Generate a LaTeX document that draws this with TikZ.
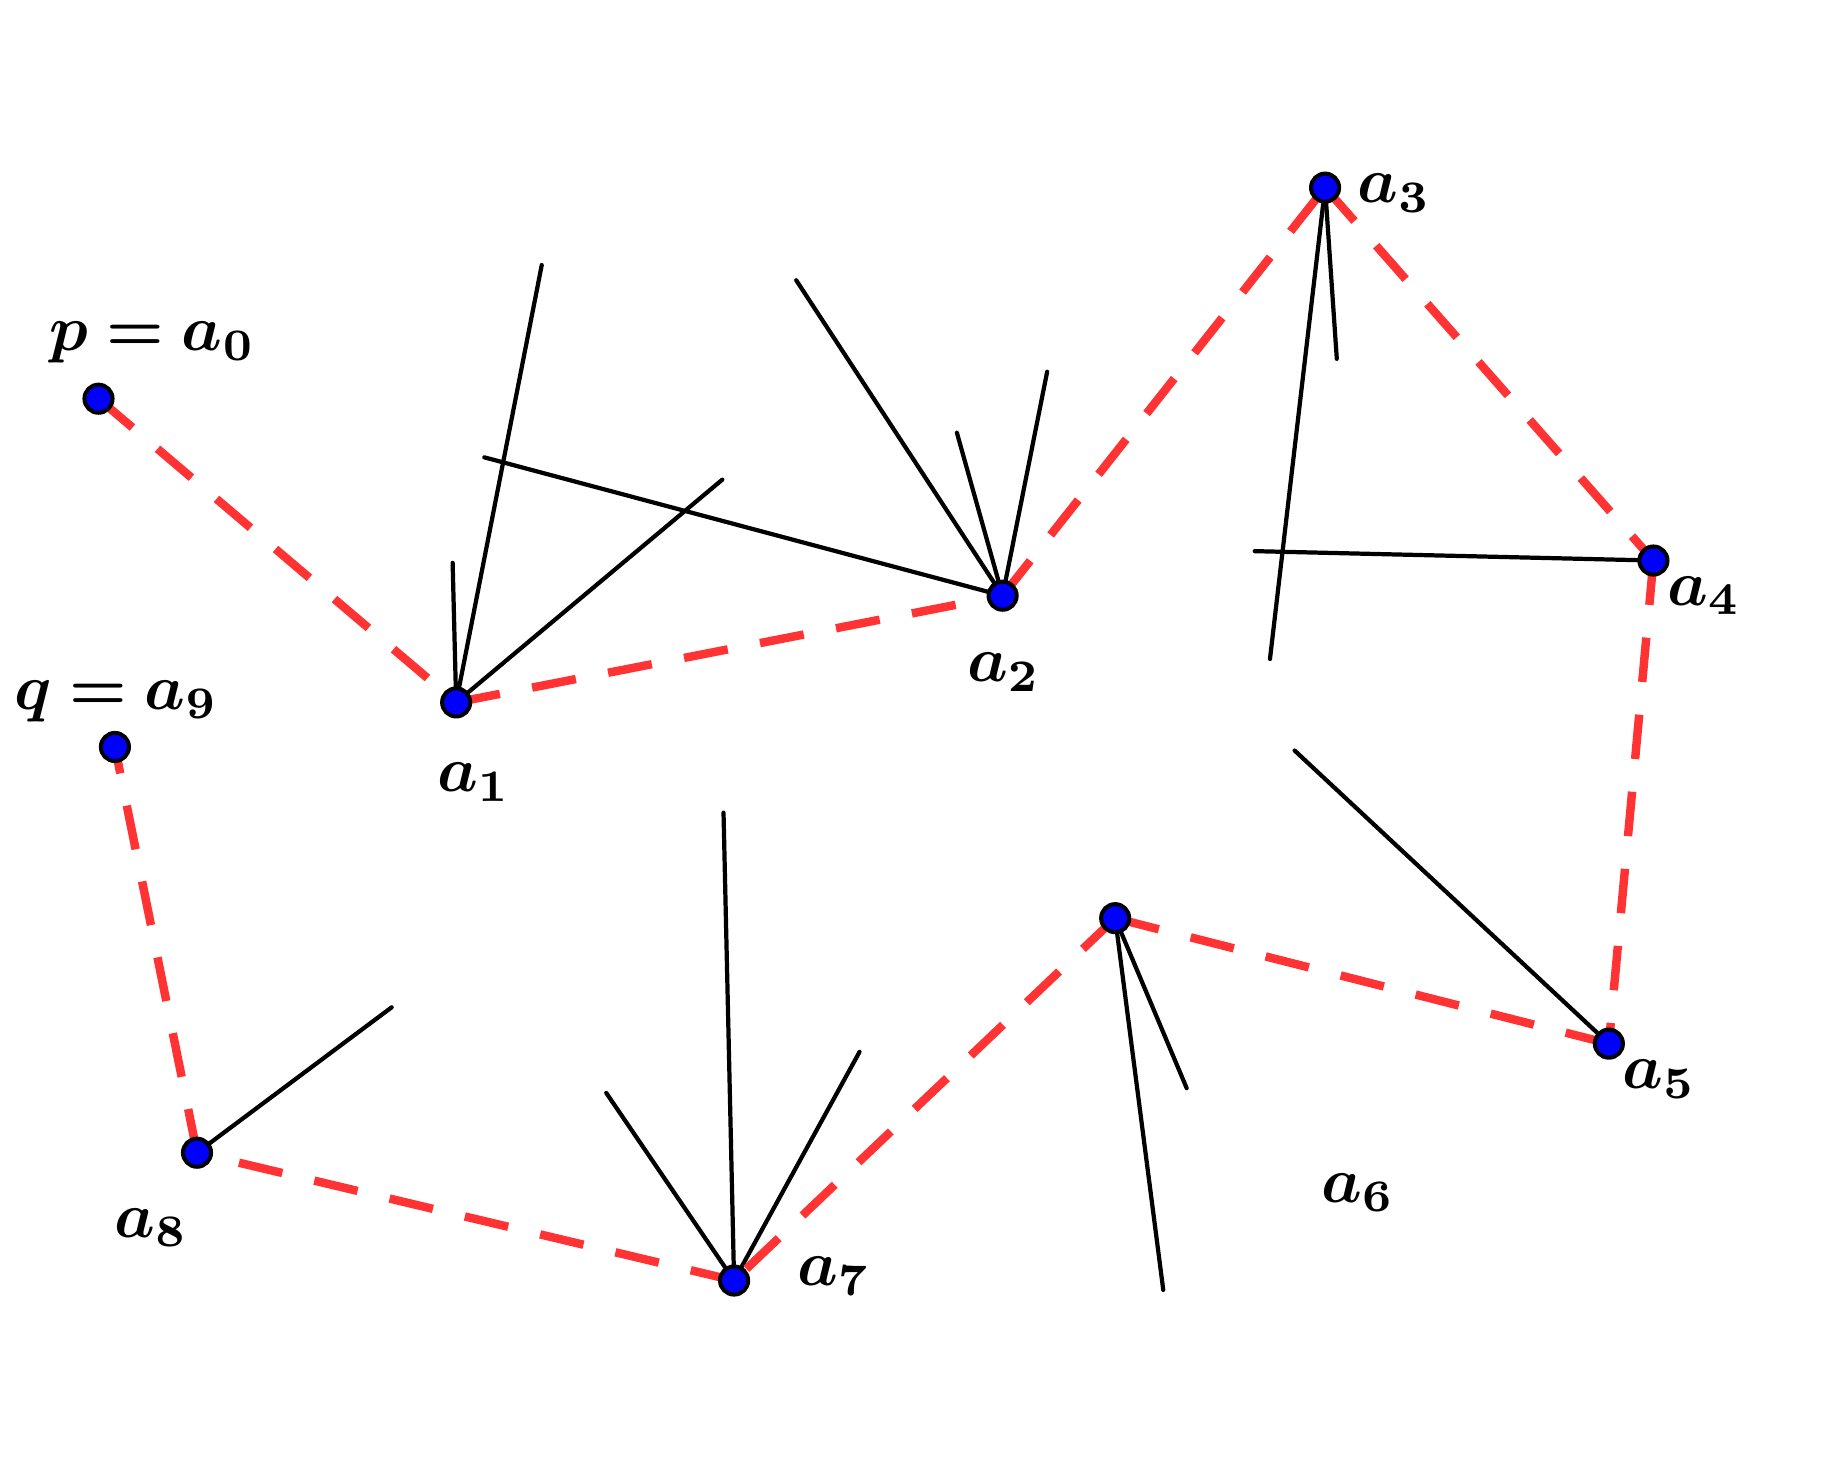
\documentclass[tikz,border=0pt]{standalone}
\usepackage{amsmath,bm}
\tikzset{
  seg/.style={black, line width=1.8pt, line cap=round},
  path/.style={draw={rgb,255:red,255;green,51;blue,51}, line width=3.6pt, dash pattern=on 19pt off 14pt},
  pt/.style={circle, draw=black, fill=blue, line width=1.7pt, minimum size=12pt, inner sep=0pt},
  lab/.style={inner sep=0pt}
}
\newcommand{\lbl}[1]{\scalebox{2.75}{$\bm{#1}$}}
\begin{document}
\begin{tikzpicture}[x=0.5pt, y=-0.5pt]
\useasboundingbox (0,0) rectangle (1564,1259);
% vertex positions
\coordinate (A0) at (84,340);
\coordinate (A1) at (389,599);
\coordinate (A2) at (855,508);
\coordinate (A3) at (1130,160);
\coordinate (A4) at (1410,478);
\coordinate (A5) at (1372,890);
\coordinate (A6) at (951,783);
\coordinate (A7) at (626,1092);
\coordinate (A8) at (168,983);
\coordinate (A9) at (98,637);
% free ends of segments
\coordinate (e1) at (462,226);
\coordinate (e2) at (386,480);
\coordinate (e3) at (616,409);
\coordinate (e4) at (413,390);
\coordinate (e5) at (679,239);
\coordinate (e6) at (816,369);
\coordinate (e7) at (893,317);
\coordinate (e8) at (1083,562);
\coordinate (e9) at (1140,306);
\coordinate (e10) at (1070,470);
\coordinate (e11) at (1104,640);
\coordinate (e12) at (1012,928);
\coordinate (e13) at (992,1100);
\coordinate (e14) at (517,932);
\coordinate (e15) at (617,693);
\coordinate (e16) at (733,897);
\coordinate (e17) at (334,859);
% black segments
\draw[seg] (A1) -- (e1);
\draw[seg] (A1) -- (e2);
\draw[seg] (A1) -- (e3);
\draw[seg] (A2) -- (e4);
\draw[seg] (A2) -- (e5);
\draw[seg] (A2) -- (e6);
\draw[seg] (A2) -- (e7);
\draw[seg] (A3) -- (e8);
\draw[seg] (A3) -- (e9);
\draw[seg] (A4) -- (e10);
\draw[seg] (A5) -- (e11);
\draw[seg] (A6) -- (e12);
\draw[seg] (A6) -- (e13);
\draw[seg] (A7) -- (e14);
\draw[seg] (A7) -- (e15);
\draw[seg] (A7) -- (e16);
\draw[seg] (A8) -- (e17);
% red dashed chain
\draw[path] (A0) -- (A1);
\draw[path] (A1) -- (A2);
\draw[path] (A2) -- (A3);
\draw[path] (A3) -- (A4);
\draw[path] (A4) -- (A5);
\draw[path] (A5) -- (A6);
\draw[path] (A6) -- (A7);
\draw[path] (A7) -- (A8);
\draw[path] (A8) -- (A9);
% points
\node[pt] (a0) at (A0) {};
\node[pt] (a1) at (A1) {};
\node[pt] (a2) at (A2) {};
\node[pt] (a3) at (A3) {};
\node[pt] (a4) at (A4) {};
\node[pt] (a5) at (A5) {};
\node[pt] (a6) at (A6) {};
\node[pt] (a7) at (A7) {};
\node[pt] (a8) at (A8) {};
\node[pt] (a9) at (A9) {};
% labels
\node[lab] (l0) at (130,292) {\lbl{p=a_0}};
\node[lab] (l9) at (99,598) {\lbl{q=a_9}};
\node[lab] (l1) at (404,667) {\lbl{a_1}};
\node[lab] (l2) at (856,573) {\lbl{a_2}};
\node[lab] (l3) at (1189,165) {\lbl{a_3}};
\node[lab] (l4) at (1453,508) {\lbl{a_4}};
\node[lab] (l5) at (1415,920) {\lbl{a_5}};
\node[lab] (l6) at (1158,1017) {\lbl{a_6}};
\node[lab] (l7) at (711,1088) {\lbl{a_7}};
\node[lab] (l8) at (129,1047) {\lbl{a_8}};
\end{tikzpicture}
\end{document}
